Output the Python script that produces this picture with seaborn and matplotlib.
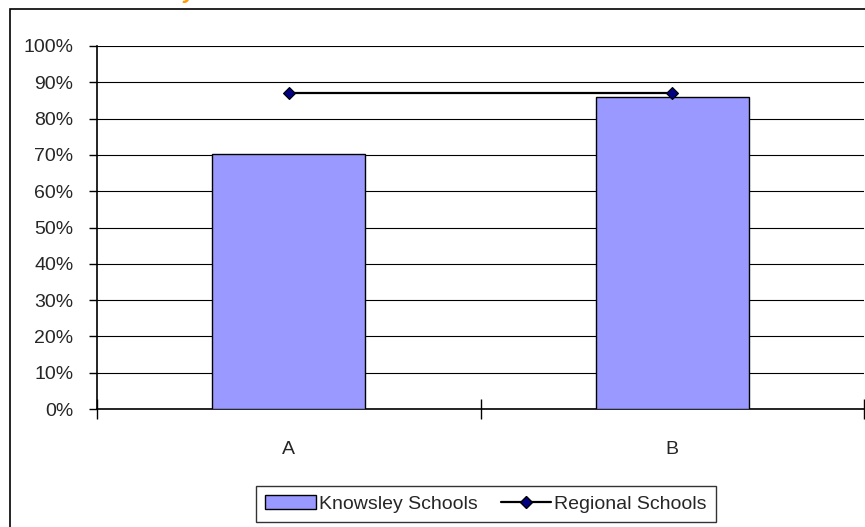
import matplotlib
matplotlib.use("Agg")
import matplotlib.pyplot as plt
import seaborn as sns
import pandas as pd
from matplotlib.patches import Rectangle, Patch
from matplotlib.lines import Line2D
from matplotlib.ticker import FixedLocator, PercentFormatter

categories = ["A", "B"]
knowsley = [70.3, 86.0]
regional = [87.0, 87.0]
series_names = ["Knowsley Schools", "Regional Schools"]
ytick_values = [0, 10, 20, 30, 40, 50, 60, 70, 80, 90, 100]

sns.set_style("white")
plt.rcParams['font.family'] = ['Liberation Sans', 'DejaVu Sans']

W, H = 865, 527
fig = plt.figure(figsize=(W / 100, H / 100), dpi=100)
ax = fig.add_axes([97 / W, 1 - 409 / H, (864 - 97) / W, (409 - 46) / H])

df = pd.DataFrame({"cat": categories, "k": knowsley, "r": regional})

sns.barplot(data=df, x="cat", y="k", color="#9999FF", saturation=1,
            width=0.4, edgecolor="black", linewidth=1.0, ax=ax, zorder=3)
sns.pointplot(data=df, x="cat", y="r", color="black", markers="D",
              linestyles="-", ax=ax, zorder=4)
for line in ax.lines:
    line.set_linewidth(1.6)
    line.set_markerfacecolor("#000080")
    line.set_markeredgecolor("black")
    line.set_markersize(6.5)
    line.set_markeredgewidth(0.8)

ax.set_xlim(-0.5, 1.5)
ax.set_ylim(0, 100)
ax.yaxis.set_major_locator(FixedLocator(ytick_values))
ax.yaxis.set_major_formatter(PercentFormatter(decimals=0))
ax.grid(axis="y", color="black", linewidth=0.8, zorder=0)
ax.set_axisbelow(True)
ax.set_xlabel("")
ax.set_ylabel("")

for s in ["top", "right"]:
    ax.spines[s].set_visible(False)
for s in ["left", "bottom"]:
    ax.spines[s].set_color("black")
    ax.spines[s].set_linewidth(1.2)

ax.tick_params(axis="y", direction="out", length=6, width=1, color="black",
               labelsize=14, pad=11, left=True)
ax.tick_params(axis="x", which="major", length=0, labelsize=14, pad=23)
ax.xaxis.set_minor_locator(FixedLocator([-0.5, 0.5, 1.5]))
ax.tick_params(axis="x", which="minor", direction="inout", length=14,
               width=1, color="black", bottom=True)

handles = [
    Patch(facecolor="#9999FF", edgecolor="black", linewidth=1.0),
    Line2D([0], [0], color="black", linewidth=1.6, marker="D",
           markerfacecolor="#000080", markeredgecolor="black", markersize=6.5),
]
leg = fig.legend(handles, series_names, loc="center",
                 bbox_to_anchor=(486 / W, 1 - 504 / H), ncol=2,
                 frameon=True, fancybox=False, fontsize=14,
                 handlelength=2.6, handletextpad=0.15, columnspacing=1.2,
                 borderpad=0.45)
leg.get_frame().set_edgecolor("black")
leg.get_frame().set_linewidth(1.0)

fig.patches.append(Rectangle((10 / W, -0.1), 1.2, 1 - 8.5 / H + 0.1,
                             transform=fig.transFigure, fill=False,
                             edgecolor="black", linewidth=1.2))

fig.text(196 / W, 1 + 2 / H, "Knowsley", ha="right", va="baseline",
         fontsize=16, fontweight="bold", fontstyle="italic", color="#FF9900")

fig.savefig("out.png", dpi=100)
